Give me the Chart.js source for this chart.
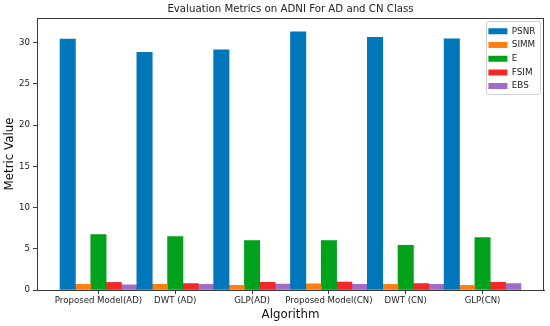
<!DOCTYPE html>
<html>
<head>
<meta charset="utf-8">
<script src="https://cdn.jsdelivr.net/npm/chart.js@4/dist/chart.umd.min.js"></script>
<style>
  html, body { margin: 0; padding: 0; background: #ffffff; }
  #wrap { width: 550px; height: 326px; }
</style>
</head>
<body>
<div id="wrap"><canvas id="c" width="550" height="326"></canvas></div>
<script>
const categories = ["Proposed Model(AD)", "DWT (AD)", "GLP(AD)", "Proposed Model(CN)", "DWT (CN)", "GLP(CN)"];
const psnr = [30.45, 28.83, 29.15, 31.34, 30.66, 30.49];
const simm = [0.69, 0.70, 0.57, 0.75, 0.68, 0.57];
const eVals = [6.73, 6.48, 6.00, 6.00, 5.43, 6.36];
const fsim = [0.92, 0.78, 0.93, 0.97, 0.78, 0.93];
const ebs  = [0.62, 0.68, 0.72, 0.69, 0.69, 0.78];
const yTicks = [0, 5, 10, 15, 20, 25, 30];

const seriesNames = ["PSNR", "SIMM", "E", "FSIM", "EBS"];
const seriesColors = ["#0077BB", "#FF800E", "#00A11B", "#F52828", "#A06CC6"];
const seriesValues = [psnr, simm, eVals, fsim, ebs];

const FONT = "'DejaVu Sans', sans-serif";
const LEG = { x: 486, y: 21, w: 54, h: 73 };

const framePlugin = {
  id: 'frame',
  afterLayout(chart) {
    const lg = chart.legend;
    if (!lg) return;
    lg.left = LEG.x - 2.5;
    lg.top = LEG.y + 1;
    lg.right = chart.width;
    lg.bottom = chart.height;
    lg.width = lg.right - lg.left;
    lg.height = lg.bottom - lg.top;
  },
  beforeDraw(chart) {
    const ctx = chart.ctx;
    ctx.save();
    ctx.fillStyle = '#ffffff';
    ctx.fillRect(0, 0, chart.width, chart.height);
    const x = LEG.x + 0.5, y = LEG.y + 0.5, w = LEG.w, h = LEG.h, r = 2.5;
    ctx.beginPath();
    ctx.moveTo(x + r, y);
    ctx.arcTo(x + w, y, x + w, y + h, r);
    ctx.arcTo(x + w, y + h, x, y + h, r);
    ctx.arcTo(x, y + h, x, y, r);
    ctx.arcTo(x, y, x + w, y, r);
    ctx.closePath();
    ctx.fillStyle = 'rgba(255,255,255,0.8)';
    ctx.fill();
    ctx.strokeStyle = '#d0d0d0';
    ctx.lineWidth = 1;
    ctx.stroke();
    ctx.restore();
  },
  afterDatasetsDraw(chart) {
    const a = chart.chartArea;
    const ctx = chart.ctx;
    ctx.save();
    ctx.strokeStyle = '#3a3a3a';
    ctx.lineWidth = 1;
    ctx.strokeRect(Math.round(a.left) + 0.5, Math.round(a.top) + 0.5,
                   Math.round(a.right - a.left) - 1, Math.round(a.bottom - a.top));
    ctx.restore();
  }
};

const datasets = seriesNames.map((name, k) => ({
  label: name,
  data: seriesValues[k].map((v, i) => ({ x: i, y: v })),
  backgroundColor: seriesColors[k],
  borderWidth: 0,
  barPercentage: 1.0,
  categoryPercentage: 1.0
}));

new Chart(document.getElementById('c'), {
  type: 'bar',
  data: { datasets },
  plugins: [framePlugin],
  options: {
    responsive: false,
    animation: false,
    devicePixelRatio: 1,
    layout: { padding: { left: 0, right: 6, top: 0, bottom: 0 } },
    plugins: {
      title: {
        display: true,
        text: 'Evaluation Metrics on ADNI For AD and CN Class',
        fullSize: false,
        color: '#222',
        font: { family: FONT, size: 10.2, weight: 'normal' },
        padding: { top: 3.2, bottom: 2.6 }
      },
      legend: {
        position: 'chartArea',
        align: 'start',
        labels: {
          color: '#222',
          font: { family: FONT, size: 8.8 },
          boxWidth: 19,
          boxHeight: 6,
          padding: 4.9
        }
      },
      tooltip: { enabled: false }
    },
    scales: {
      x: {
        type: 'linear',
        offset: false,
        min: -0.8,
        max: 5.8,
        afterBuildTicks(scale) {
          scale.ticks = categories.map((c, i) => ({ value: i }));
        },
        afterFit(scale) { scale.height = 36; },
        ticks: {
          autoSkip: false,
          maxRotation: 0,
          color: '#222',
          font: { family: FONT, size: 8.6 },
          padding: 2,
          callback: (v) => categories[v]
        },
        grid: { display: true, drawOnChartArea: false, drawTicks: true, tickLength: 4, color: '#3a3a3a', offset: false },
        border: { display: true, color: '#3a3a3a' },
        title: {
          display: true,
          text: 'Algorithm',
          color: '#111',
          font: { family: FONT, size: 11.8 },
          padding: { top: 0, bottom: 3.5 }
        }
      },
      y: {
        min: 0,
        max: 33,
        afterBuildTicks(scale) {
          scale.ticks = yTicks.map(v => ({ value: v }));
        },
        afterFit(scale) { scale.width = 37; },
        ticks: {
          color: '#222',
          font: { family: FONT, size: 8.6 },
          padding: 3
        },
        grid: { display: true, drawOnChartArea: false, drawTicks: true, tickLength: 4, color: '#3a3a3a' },
        border: { display: true, color: '#3a3a3a' },
        title: {
          display: true,
          text: 'Metric Value',
          color: '#111',
          font: { family: FONT, size: 11.8 },
          padding: { top: 3, bottom: 0 }
        }
      }
    }
  }
});
</script>
</body>
</html>
